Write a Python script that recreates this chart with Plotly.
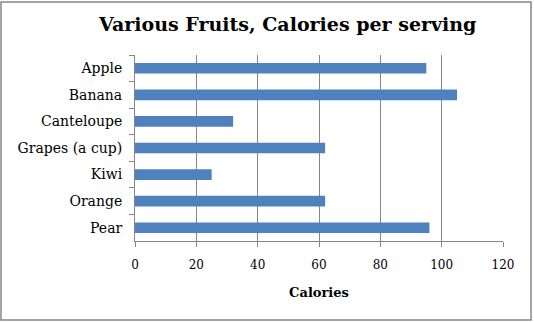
import plotly.graph_objects as go

fruits = ["Apple", "Banana", "Canteloupe", "Grapes (a cup)", "Kiwi", "Orange", "Pear"]
calories = [95, 105, 32, 62, 25, 62, 96]
x_ticks = [0, 20, 40, 60, 80, 100, 120]

title_text = "Various Fruits, Calories per serving"
x_title = "Calories"

GRAY = "#868686"
BAR = "#4F81BD"
SERIF = "DejaVu Serif"

fig = go.Figure(go.Bar(
    x=calories, y=fruits, orientation="h",
    marker=dict(color=BAR, line=dict(width=0)),
))

fig.update_layout(
    width=534, height=322,
    margin=dict(l=135, r=31, t=55, b=81),
    paper_bgcolor="white", plot_bgcolor="white",
    bargap=0.6,
    showlegend=False,
    font=dict(family=SERIF, size=13, color="black"),
    shapes=[dict(type="rect", xref="paper", yref="paper",
                 x0=-134/368, x1=396/368, y0=-79/186, y1=239/186,
                 line=dict(color=GRAY, width=1.5), layer="below")],
    annotations=[dict(text="<b>" + title_text + "</b>", xref="paper", yref="paper",
                      x=(286.5 - 135) / 368, y=(241 - 24) / 186, xanchor="center", yanchor="middle",
                      showarrow=False, font=dict(family=SERIF, size=19, color="black"))],
)

fig.update_xaxes(
    range=[0, 120], tickvals=x_ticks, ticktext=[str(v) for v in x_ticks],
    showgrid=True, gridcolor=GRAY, gridwidth=1,
    showline=True, linecolor=GRAY, linewidth=1,
    ticks="outside", ticklen=5, tickcolor=GRAY, tickwidth=1,
    ticklabelstandoff=8,
    tickfont=dict(family=SERIF, size=12),
    zeroline=False,
    title=dict(text="<b>" + x_title + "</b>", standoff=16, font=dict(family=SERIF, size=13)),
)

fig.update_yaxes(
    categoryorder="array", categoryarray=fruits, autorange="reversed",
    showgrid=False, showline=True, linecolor=GRAY, linewidth=1,
    ticks="outside", ticklen=5, tickcolor=GRAY, tickwidth=1,
    tickson="boundaries", ticklabelstandoff=9,
    tickfont=dict(family=SERIF, size=14),
    zeroline=False,
)

fig.write_html("out.html")
